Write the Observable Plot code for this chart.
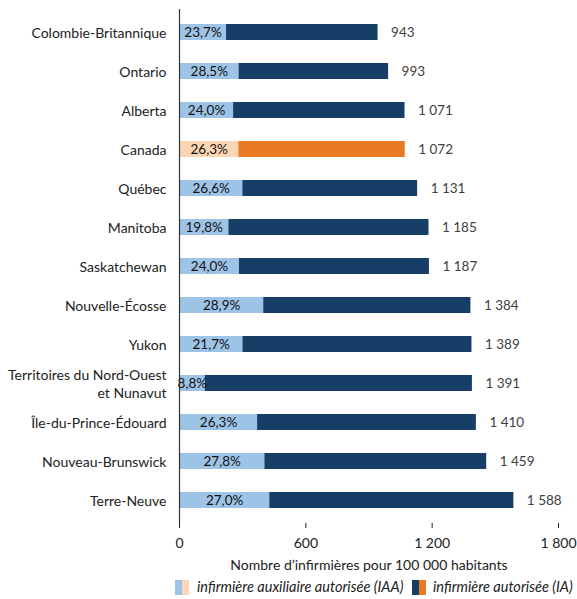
<!DOCTYPE html>
<html>
<head>
<meta charset="utf-8">
<script src="https://cdn.jsdelivr.net/npm/d3@7"></script>
<script src="https://cdn.jsdelivr.net/npm/@observablehq/plot@0.6"></script>
<style>
  body { margin: 0; background: #fff; font-family: Lato, "Open Sans", sans-serif; }
  #chart { width: 577px; }
  .legend { position: relative; font-size: 14.5px; font-style: italic; color: #222; height: 20px; }
  .legend > span { position: absolute; top: 0; line-height: 18px; white-space: nowrap; }
  .sw { display: inline-block; width: 7px; height: 15px; vertical-align: top; margin-top: 2px; }
</style>
</head>
<body>
<div id="chart"></div>
<script>
const provinces = ["Colombie-Britannique", "Ontario", "Alberta", "Canada", "Québec", "Manitoba", "Saskatchewan", "Nouvelle-Écosse", "Yukon", "Territoires du Nord-Ouest\net Nunavut", "Île-du-Prince-Édouard", "Nouveau-Brunswick", "Terre-Neuve"];
const totals = [943, 993, 1071, 1072, 1131, 1185, 1187, 1384, 1389, 1391, 1410, 1459, 1588];
const iaaPct = [23.7, 28.5, 24.0, 26.3, 26.6, 19.8, 24.0, 28.9, 21.7, 8.8, 26.3, 27.8, 27.0];
const xTicks = [0, 600, 1200, 1800];
const seriesNames = ["infirmière auxiliaire autorisée (IAA)", "infirmière autorisée (IA)"];
const axisLabel = "Nombre d’infirmières pour 100 000 habitants";

const colors = {
  iaa: "#9dc3e6", ia: "#163e66",
  iaaCanada: "#fcd5b5", iaCanada: "#e87b22"
};

const loc = d3.formatLocale({decimal: ",", thousands: "\u00a0", grouping: [3], currency: ["", " $"]});
const fmtInt = loc.format(",d");
const fmtPct = v => loc.format(".1f")(v) + "%";

const rows = [];
provinces.forEach((p, i) => {
  const iaa = totals[i] * iaaPct[i] / 100;
  const canada = p === "Canada";
  rows.push({name: p, type: "IAA", value: iaa, fill: canada ? colors.iaaCanada : colors.iaa});
  rows.push({name: p, type: "IA", value: totals[i] - iaa, fill: canada ? colors.iaCanada : colors.ia});
});
const pctLabels = provinces.map((p, i) => ({name: p, x: totals[i] * iaaPct[i] / 200, text: fmtPct(iaaPct[i])}));
const totLabels = provinces.map((p, i) => ({name: p, x: totals[i], text: fmtInt(totals[i])}));

const chart = Plot.plot({
  width: 577,
  height: 578,
  marginLeft: 179,
  marginRight: 19,
  marginTop: 9,
  marginBottom: 55,
  style: {fontFamily: "Lato, 'Open Sans', sans-serif", fontSize: "13.5px", color: "#222", background: "#fff"},
  x: {domain: [0, 1800], ticks: xTicks},
  y: {domain: provinces, paddingInner: 0.595, paddingOuter: 0.3},
  color: {type: "identity"},
  marks: [
    Plot.barX(rows, Plot.stackX({x: "value", y: "name", fill: "fill", order: null})),
    Plot.text(pctLabels, {x: "x", y: "name", text: "text", fill: "#111", fontSize: 13.5}),
    Plot.text(totLabels, {x: "x", y: "name", text: "text", dx: 13, textAnchor: "start", fill: "#404040", fontSize: 13.5}),
    Plot.ruleX([0], {stroke: "#333", strokeWidth: 1.2}),
    Plot.ruleY([0], {frameAnchor: "bottom", stroke: "#222"}),
    Plot.axisY({tickSize: 0, tickPadding: 13, label: null, fontSize: 14, lineHeight: 1.25}),
    Plot.axisX({ticks: xTicks, tickSize: 5, tickPadding: 10, tickFormat: fmtInt, label: axisLabel, labelAnchor: "center", labelArrow: "none", labelOffset: 46, fontSize: 14, stroke: "#222"})
  ]
});
document.getElementById("chart").appendChild(chart);

const legend = document.createElement("div");
legend.className = "legend";
function swatch(c1, c2, left) {
  const w = document.createElement("span");
  w.style.left = left + "px";
  [c1, c2].forEach(c => { const s = document.createElement("span"); s.className = "sw"; s.style.background = c; w.appendChild(s); });
  return w;
}
function label(t, left) { const s = document.createElement("span"); s.textContent = t; s.style.left = left + "px"; return s; }
legend.appendChild(swatch(colors.iaa, colors.iaaCanada, 175));
legend.appendChild(label(seriesNames[0], 197));
legend.appendChild(swatch(colors.ia, colors.iaCanada, 412));
legend.appendChild(label(seriesNames[1], 433));
document.getElementById("chart").appendChild(legend);
</script>
</body>
</html>
